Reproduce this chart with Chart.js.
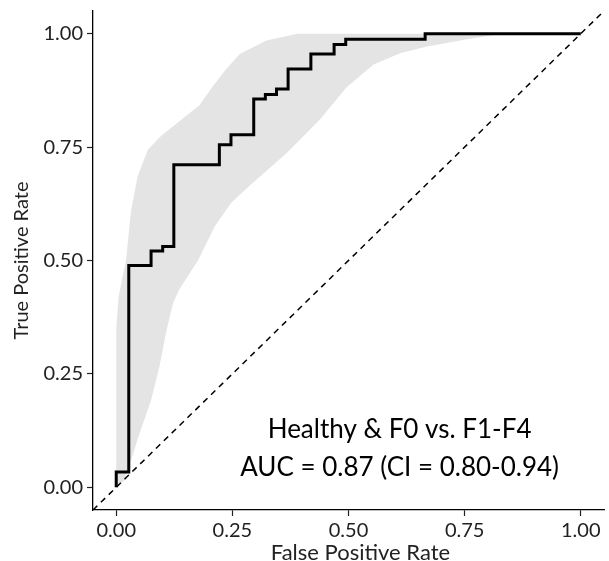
<!DOCTYPE html>
<html lang="en">

<head>
    <meta charset="UTF-8">
    <title>ROC curve</title>
    <script src="https://cdn.jsdelivr.net/npm/chart.js"></script>
    <style>
        body { margin: 0; background: #fff; }
    </style>
</head>

<body>

    <canvas id="rocChart" width="609" height="561"></canvas>

    <script>
        // ROC curve corners (step: horizontal first, then up)
        const rocFpr = [0, 0, 0.027, 0.075, 0.100, 0.124, 0.222, 0.247, 0.296, 0.321, 0.345, 0.370, 0.419, 0.469, 0.494, 0.665, 1.0];
        const rocTpr = [0, 0.034, 0.489, 0.521, 0.531, 0.711, 0.755, 0.777, 0.856, 0.866, 0.878, 0.922, 0.955, 0.976, 0.988, 1.0, 1.0];

        // confidence band, upper edge
        const upperFpr = [0, 0.005, 0.015, 0.021, 0.032, 0.046, 0.068, 0.097, 0.14, 0.179, 0.208, 0.235, 0.266, 0.323, 0.39, 1.0];
        const upperTpr = [0.35, 0.42, 0.47, 0.50, 0.61, 0.685, 0.744, 0.775, 0.81, 0.842, 0.884, 0.92, 0.955, 0.985, 1.0, 1.0];

        // confidence band, lower edge
        const lowerFpr = [0, 0.017, 0.032, 0.05, 0.075, 0.093, 0.107, 0.122, 0.135, 0.176, 0.212, 0.248, 0.287, 0.367, 0.438, 0.496, 0.554, 0.611, 0.669, 0.755, 0.83, 1.0];
        const lowerTpr = [0, 0.015, 0.06, 0.118, 0.192, 0.266, 0.34, 0.405, 0.435, 0.50, 0.575, 0.628, 0.665, 0.737, 0.81, 0.882, 0.932, 0.957, 0.972, 0.988, 1.0, 1.0];

        const axisMin = -0.05;
        const axisMax = 1.05;
        const tickValues = [0, 0.25, 0.5, 0.75, 1.0];

        const xTitle = 'False Positive Rate';
        const yTitle = 'True Positive Rate';
        const labelLines = ['Healthy & F0 vs. F1-F4', 'AUC = 0.87 (CI = 0.80-0.94)'];
        const labelX = 0.61;
        const labelY = [0.108, 0.026];

        const toPoints = (xs, ys) => xs.map((x, i) => ({ x: x, y: ys[i] }));

        // band as one closed shape: upper edge left->right, lower edge right->left
        const bandPoints = toPoints(upperFpr, upperTpr).concat(toPoints(lowerFpr, lowerTpr).reverse());

        const textPlugin = {
            id: 'aucText',
            afterDatasetsDraw(chart) {
                const c = chart.ctx;
                const xs = chart.scales.x, ys = chart.scales.y;
                c.save();
                c.fillStyle = '#000';
                c.textAlign = 'center';
                c.textBaseline = 'alphabetic';
                c.font = '26px Lato';
                labelLines.forEach((t, i) => {
                    c.fillText(t, xs.getPixelForValue(labelX), ys.getPixelForValue(labelY[i]));
                });
                // x axis title, sits a little right of the panel centre in the original
                c.fillStyle = '#222';
                c.font = '22px Lato';
                c.fillText(xTitle, (xs.left + xs.right) / 2 + 12, xs.bottom - 1);
                c.restore();
            }
        };

        const axisOpts = () => ({
            type: 'linear',
            min: axisMin,
            max: axisMax,
            afterBuildTicks: (s) => { s.ticks = tickValues.map(v => ({ value: v })); },
            ticks: {
                color: '#222',
                font: { family: 'Lato', size: 20 },
                padding: 4,
                callback: (v) => v.toFixed(2)
            },
            grid: {
                display: true,
                drawOnChartArea: false,
                drawTicks: true,
                tickLength: 6,
                tickWidth: 1.2,
                tickColor: '#222'
            },
            border: { display: true, color: '#000', width: 1.3 }
        });

        const xOpts = axisOpts();
        xOpts.ticks.padding = 3;
        xOpts.afterFit = (s) => { s.height = 51; };
        const yOpts = axisOpts();
        yOpts.title = {
            display: true,
            text: yTitle,
            color: '#222',
            font: { family: 'Lato', size: 20 },
            padding: { top: 10, bottom: 0 }
        };
        yOpts.afterFit = (s) => {
            s.width = 93;
            // no extra room for half tick labels, the layout padding handles it
            s.paddingTop = 0;
            s.paddingBottom = 0;
        };

        const ctx = document.getElementById('rocChart').getContext('2d');

        const chart = new Chart(ctx, {
            type: 'line',
            data: {
                datasets: [{
                    label: 'ROC',
                    data: toPoints(rocFpr, rocTpr),
                    borderColor: '#000',
                    borderWidth: 3,
                    stepped: 'before',
                    pointRadius: 0,
                    fill: false,
                    order: 0
                }, {
                    label: 'Chance',
                    data: [{ x: axisMin, y: axisMin }, { x: axisMax, y: axisMax }],
                    borderColor: '#000',
                    borderWidth: 1.5,
                    borderDash: [6, 5],
                    pointRadius: 0,
                    fill: false,
                    order: 1
                }, {
                    label: 'CI',
                    data: bandPoints,
                    borderWidth: 0,
                    borderColor: 'rgba(0,0,0,0)',
                    backgroundColor: '#e4e4e4',
                    pointRadius: 0,
                    fill: 'shape',
                    order: 2
                }]
            },
            options: {
                responsive: false,
                animation: false,
                devicePixelRatio: 1,
                layout: { padding: { top: 11, right: 5, left: 0, bottom: 0 } },
                scales: {
                    x: xOpts,
                    y: yOpts
                },
                plugins: {
                    legend: { display: false },
                    tooltip: { enabled: false }
                }
            },
            plugins: [textPlugin]
        });

    </script>

</body>

</html>
